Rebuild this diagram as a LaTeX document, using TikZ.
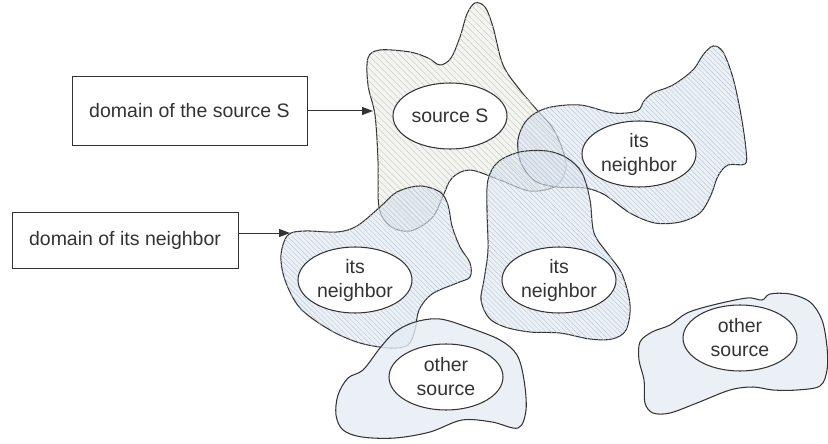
\documentclass[tikz,border=0pt]{standalone}
\usepackage{fontspec}
\setmainfont{Liberation Sans}
\usetikzlibrary{arrows.meta,patterns.meta,shapes.geometric}
\definecolor{ink}{HTML}{333333}
\definecolor{srcfill}{HTML}{ECEDE8}
\definecolor{srchatch}{HTML}{CDCFC8}
\definecolor{nbfill}{HTML}{DFE7F1}
\definecolor{nbhatch}{HTML}{BCC7D6}
\definecolor{othfill}{HTML}{E6ECF5}
\begin{document}
\begin{tikzpicture}[x=1pt,y=-1pt,
  font=\fontsize{19.5}{24}\selectfont,
  outl/.style={draw=ink, line width=1.05pt},
  srcdom/.style={outl, fill=srcfill, fill opacity=0.6,
    postaction={pattern={Lines[angle=-45,distance=4.5pt,line width=0.55pt]}, pattern color=srchatch}},
  nbdom/.style={outl, fill=nbfill, fill opacity=0.6,
    postaction={pattern={Lines[angle=-45,distance=3.5pt,line width=0.45pt]}, pattern color=nbhatch}},
  othdom/.style={outl, fill=othfill, fill opacity=0.8},
  blob/.style={ellipse, draw=ink, line width=1.05pt, fill=white, text=ink,
    minimum width=114pt, minimum height=66pt, inner sep=0pt, align=center},
  labelbox/.style={rectangle, draw=ink, line width=1pt, fill=white, text=ink, inner sep=0pt},
  arr/.style={draw=ink, line width=1pt, -{Triangle[length=11pt,width=8pt]}}
]
\useasboundingbox (0,0) rectangle (828,444);

% domain of the source S
\path[srcdom] plot[smooth cycle, tension=0.55] coordinates {
 (368,58) (380,50) (410,52) (428,58) (440,65) (451,58) (460,37) (467,14) (475,3)
 (485,7) (493,27) (503,65) (520,90) (537,110) (552,127) (562,148) (566,168)
 (556,186) (530,191) (500,180) (470,170) (452,178) (443,196) (432,218) (410,231)
 (390,226) (379,207) (378,160) (375,115) (368,85)};

% right neighbor domain
\path[nbdom] plot[smooth cycle, tension=0.55] coordinates {
 (547,108) (527,120) (518,140) (521,163) (535,181) (557,187) (585,188) (605,195)
 (630,213) (655,223) (680,222) (700,213) (711,195) (718,176) (728,165) (745,164)
 (746,150) (741,115) (733,78) (723,52) (713,46) (703,55) (693,70) (673,85)
 (653,93) (644,101) (637,111) (613,113) (580,105)};

% middle neighbor domain
\path[nbdom] plot[smooth cycle, tension=0.55] coordinates {
 (520,152) (547,151) (567,158) (582,173) (590,200) (594,233) (608,254) (622,274)
 (630,305) (626,330) (612,339) (590,339) (560,333) (530,332) (505,327) (489,318)
 (481,300) (484,280) (488,250) (487,210) (488,180) (498,162)};

% left neighbor domain
\path[nbdom] plot[smooth cycle, tension=0.55] coordinates {
 (288,235) (305,231) (337,232) (357,226) (380,207) (397,192) (420,186) (440,192)
 (448,205) (452,226) (460,247) (470,263) (470,277) (457,283) (432,294) (419,310)
 (415,330) (408,345) (390,348) (360,343) (330,330) (300,308) (285,280) (281,255)};

% other source domain, bottom left
\path[othdom] plot[smooth cycle, tension=0.55] coordinates {
 (363,370) (348,378) (338,395) (336,415) (343,430) (362,437) (395,438) (430,432)
 (462,420) (492,422) (518,428) (526,410) (524,380) (517,355) (500,340) (470,328)
 (440,319) (415,322) (395,332) (380,348)};

% other source domain, right
\path[othdom] plot[smooth cycle, tension=0.55] coordinates {
 (640,342) (652,332) (670,325) (687,313) (713,305) (747,298) (762,300) (770,294)
 (790,294) (810,302) (822,320) (827,347) (827,370) (820,386) (797,390) (773,390)
 (753,387) (730,390) (697,403) (670,413) (653,413) (645,403) (644,380) (639,360)};

% sources and neighbors
\node[blob] (src) at (450,116) {source S};
\node[blob] (nbR) at (639,154) {its\\neighbor};
\node[blob] (nbL) at (355,280) {its\\neighbor};
\node[blob] (nbM) at (559,280) {its\\neighbor};
\node[blob] (othL) at (446,377) {other\\source};
\node[blob] (othR) at (740,338) {other\\source};

% label boxes
\node[labelbox, minimum width=235pt, minimum height=68pt] (box1) at (189.5,111) {domain of the source S};
\node[labelbox, minimum width=226pt, minimum height=56pt] (box2) at (125,240) {domain of its neighbor};

\coordinate (srcedge) at (373,111);
\coordinate (nbedge) at (290,233);
\draw[arr] (box1.east) -- (srcedge);
\draw[arr] (box2.east |- nbedge) -- (nbedge);
\end{tikzpicture}
\end{document}
